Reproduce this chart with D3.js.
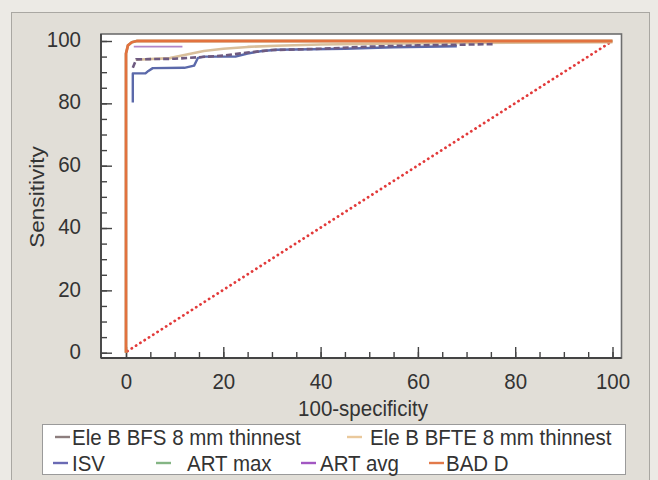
<!DOCTYPE html>
<html>
<head>
<meta charset="utf-8">
<script src="https://cdn.jsdelivr.net/npm/d3@7/dist/d3.min.js"></script>
<style>
  html, body { margin: 0; padding: 0; background: #eceae5; }
  svg { display: block; }
  text { font-family: "Liberation Sans", Arial, sans-serif; fill: #333; }
</style>
</head>
<body>
<svg id="chart" width="658" height="480"></svg>
<script>
// ---------- data ----------
const xTickLabels = [0, 20, 40, 60, 80, 100];
const yTickLabels = [0, 20, 40, 60, 80, 100];

const bfsX  = [1.4, 2.1, 5, 10, 15, 20, 25, 30, 40, 50, 60, 75.6];
const bfsY  = [91.4, 94.1, 94.2, 94.3, 94.8, 95.3, 96.3, 97.1, 97.5, 98.2, 98.6, 99.0];

const bfteX = [2, 9, 12, 16, 20, 25, 31, 40, 60, 100];
const bfteY = [94.0, 94.5, 95.5, 96.8, 97.5, 98.1, 98.5, 98.9, 99.3, 99.6];

const isvX  = [1.4, 1.4, 4.0, 4.6, 5.5, 12.0, 14.0, 14.8, 16.0, 22.5, 25.0, 28.0, 31.0, 45.0, 55.0, 68.0];
const isvY  = [80.3, 89.6, 89.6, 90.4, 91.3, 91.4, 92.1, 94.6, 95.0, 95.0, 96.0, 96.8, 97.2, 97.5, 98.0, 98.3];

const artMaxX = [0, 0, 0.4, 1.2, 2.2, 100];
const artMaxY = [0, 96, 98.6, 99.6, 100, 100];

const artAvgX = [1.6, 11.6];
const artAvgY = [98.2, 98.2];

const badDX = [0, 0, 0.4, 1.2, 2.2, 100];
const badDY = [0, 96, 98.6, 99.6, 100, 100];

const refX = [0.3, 100];
const refY = [0.5, 100];

const legendNames = ["Ele B BFS 8 mm thinnest", "Ele B BFTE 8 mm thinnest", "ISV", "ART max", "ART avg", "BAD D"];

// ---------- layout ----------
const svg = d3.select("#chart");
const frame = { left: 101, right: 621.5, top: 34, bottom: 358 };
const FS = 20.5, SY = 1.1;

// outer panel
svg.append("rect").attr("x", 11.5).attr("y", 12.5).attr("width", 638).attr("height", 480)
  .attr("fill", "#e1ded7").attr("stroke", "#a9a7a2").attr("stroke-width", 1);

// plot area
svg.append("rect").attr("x", frame.left).attr("y", frame.top)
  .attr("width", frame.right - frame.left).attr("height", frame.bottom - frame.top)
  .attr("fill", "#ffffff").attr("stroke", "#6e6e6e").attr("stroke-width", 1.6);

const x = d3.scaleLinear().domain([0, 100]).range([126, 612.5]);
const y = d3.scaleLinear().domain([0, 100]).range([352.7, 41]);

// axes
const minor = d3.range(0, 101, 5);
const gxMinor = svg.append("g").attr("transform", `translate(0,${frame.bottom})`)
  .call(d3.axisBottom(x).tickValues(minor).tickSize(-6).tickFormat(""));
const gx = svg.append("g").attr("transform", `translate(0,${frame.bottom})`)
  .call(d3.axisBottom(x).tickValues(xTickLabels).tickSize(-11).tickPadding(13.2));
const gyMinor = svg.append("g").attr("transform", `translate(${frame.left},0)`)
  .call(d3.axisLeft(y).tickValues(minor).tickSize(-6).tickFormat(""));
const gy = svg.append("g").attr("transform", `translate(${frame.left},0)`)
  .call(d3.axisLeft(y).tickValues(yTickLabels).tickSize(-11).tickPadding(20));

[gxMinor, gx, gyMinor, gy].forEach(g => {
  g.select(".domain").remove();
  g.selectAll(".tick line").attr("stroke", "#444").attr("stroke-width", 1.4);
  g.selectAll(".tick text").attr("font-size", FS).attr("fill", "#333")
    .attr("font-family", '"Liberation Sans", Arial, sans-serif')
    .attr("transform", `scale(1,${SY})`);
});
gy.selectAll(".tick text").attr("dy", "0.25em");

// axis lines (left & bottom darker)
svg.append("line").attr("x1", frame.left).attr("x2", frame.left).attr("y1", frame.top).attr("y2", frame.bottom)
  .attr("stroke", "#444").attr("stroke-width", 1.8);
svg.append("line").attr("x1", frame.left).attr("x2", frame.right).attr("y1", frame.bottom).attr("y2", frame.bottom)
  .attr("stroke", "#444").attr("stroke-width", 1.8);

function label(tx, ty, str, anchor, rot) {
  return svg.append("text")
    .attr("transform", `translate(${tx},${ty})` + (rot ? ` rotate(${rot})` : "") + ` scale(1,${SY})`)
    .attr("text-anchor", anchor || "start").attr("font-size", FS).text(str);
}

// axis titles
label(363, 416, "100-specificity", "middle");
svg.append("text").attr("transform", `translate(44,197) rotate(-90) scale(${SY},1)`)
  .attr("text-anchor", "middle").attr("font-size", FS).text("Sensitivity");

// ---------- series ----------
const line = d3.line().x(d => x(d[0])).y(d => y(d[1]));
const zip = (a, b) => a.map((v, i) => [v, b[i]]);
const plot = svg.append("g");

function draw(xs, ys, color, width, dash, cap) {
  plot.append("path").datum(zip(xs, ys)).attr("d", line)
    .attr("fill", "none").attr("stroke", color).attr("stroke-width", width)
    .attr("stroke-dasharray", dash || null)
    .attr("stroke-linecap", cap || "butt").attr("stroke-linejoin", "round");
}

draw(refX, refY, "#e23a3a", 2.8, "0.1,5", "round");
draw(artMaxX, artMaxY, "#86b483", 2.5);
draw(bfteX, bfteY, "#d9bf9b", 2.6);
draw(isvX, isvY, "#5b69aa", 2.4);
draw(bfsX, bfsY, "#6e5a80", 2.6, "6,3");
draw(artAvgX, artAvgY, "#b185c9", 1.8);
draw(badDX, badDY, "#e2723f", 2.8);

// ---------- legend ----------
const legend = svg.append("g");
legend.append("rect").attr("x", 42.5).attr("y", 424.5).attr("width", 583).attr("height", 50)
  .attr("fill", "#fff").attr("stroke", "#9a9a9a").attr("stroke-width", 1);

const legendColors = ["#8d7e7e", "#eac99c", "#6a6ab4", "#84b584", "#a257c2", "#e27a4a"];
const legendPos = [
  { lx: 55, tx: 72, row: 0 },
  { lx: 347, tx: 370, row: 0 },
  { lx: 53, tx: 72, row: 1 },
  { lx: 156, tx: 187, row: 1 },
  { lx: 301, tx: 320, row: 1 },
  { lx: 429, tx: 446, row: 1 }
];
legendNames.forEach((name, i) => {
  const p = legendPos[i];
  const cy = 437 + p.row * 26;
  legend.append("line").attr("x1", p.lx).attr("x2", p.lx + 15).attr("y1", cy).attr("y2", cy)
    .attr("stroke", legendColors[i]).attr("stroke-width", 2.4);
  label(p.tx, cy + 8, name, "start");
});
</script>
</body>
</html>
